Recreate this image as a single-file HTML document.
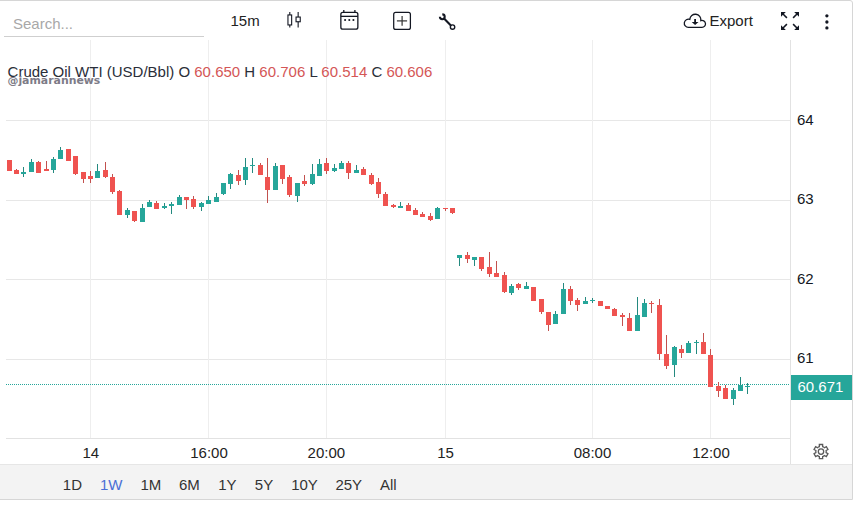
<!DOCTYPE html>
<html><head><meta charset="utf-8">
<style>
html,body{margin:0;padding:0;background:#fff;}
body{width:858px;height:505px;overflow:hidden;position:relative;font-family:"Liberation Sans",Arial,sans-serif;color:#131722;}
.a{position:absolute;white-space:nowrap;line-height:1;}
.frame{position:absolute;left:-10px;top:0;width:863px;height:500px;border:1px solid #d6d6d6;border-radius:0 3px 0 0;box-sizing:border-box;}
.search{left:13px;top:16px;font-size:15px;color:#a8a8a8;}
.tb{font-size:15px;color:#222;}
.legend{left:7.6px;top:64px;font-size:15px;color:#2a2e39;}
.legend .v{color:#d45656;}
.wm{left:7.5px;top:76px;font-family:"DejaVu Sans",Verdana,sans-serif;font-weight:bold;font-size:10.9px;color:#7d7b87;}
.yl{font-size:15px;color:#131722;left:797px;}
.xl{font-size:15px;color:#222;top:445px;transform:translateX(-50%);}
.bar{position:absolute;left:0;top:464px;width:852px;height:35px;background:#f3f3f3;border-top:1px solid #e6e6e6;box-sizing:border-box;}
.tf{font-size:15px;color:#333;top:477px;}
.tf.on{color:#4a6fd6;}
.pl{position:absolute;left:791px;top:375px;width:61px;height:25px;background:#26a69a;}
.plt{left:797.5px;top:379px;font-size:15px;color:#fff;}
</style></head><body>
<div class="frame"></div>
<div class="a search">Search...</div>
<svg width="858" height="505" style="position:absolute;left:0;top:0">
<g shape-rendering="crispEdges">
<rect x="4" y="36" width="200" height="1" fill="#cfcfcf"/>
<!-- grid -->
<g fill="#e7e7e7">
<rect x="6" y="120" width="784" height="1"/>
<rect x="6" y="200" width="784" height="1"/>
<rect x="6" y="279" width="784" height="1"/>
<rect x="6" y="359" width="784" height="1"/>
</g>
<g fill="#eeeeee">
<rect x="90" y="40" width="1" height="398"/>
<rect x="208" y="40" width="1" height="398"/>
<rect x="326" y="40" width="1" height="398"/>
<rect x="445" y="40" width="1" height="398"/>
<rect x="592" y="40" width="1" height="398"/>
<rect x="710" y="40" width="1" height="398"/>
</g>
<rect x="790" y="40" width="1" height="424" fill="#e2e2e2"/>
<rect x="6" y="438" width="784" height="1" fill="#e2e2e2"/>
<line x1="6" y1="384.5" x2="790" y2="384.5" stroke="#26a69a" stroke-width="1" stroke-dasharray="1 1"/>
<rect x="7" y="160" width="5" height="11" fill="#ef5350"/>
<rect x="16" y="169" width="1" height="5" fill="#c2514e"/>
<rect x="14" y="170" width="5" height="4" fill="#ef5350"/>
<rect x="23" y="167" width="1" height="10" fill="#24897f"/>
<rect x="21" y="172" width="5" height="2" fill="#26a69a"/>
<rect x="31" y="159" width="1" height="13" fill="#24897f"/>
<rect x="29" y="162" width="5" height="10" fill="#26a69a"/>
<rect x="38" y="161" width="1" height="12" fill="#c2514e"/>
<rect x="36" y="162" width="5" height="11" fill="#ef5350"/>
<rect x="46" y="161" width="1" height="10" fill="#c2514e"/>
<rect x="44" y="169" width="5" height="2" fill="#ef5350"/>
<rect x="53" y="157" width="1" height="16" fill="#24897f"/>
<rect x="51" y="159" width="5" height="11" fill="#26a69a"/>
<rect x="60" y="147" width="1" height="12" fill="#24897f"/>
<rect x="58" y="150" width="5" height="9" fill="#26a69a"/>
<rect x="66" y="149" width="5" height="12" fill="#ef5350"/>
<rect x="75" y="156" width="1" height="19" fill="#c2514e"/>
<rect x="73" y="156" width="5" height="18" fill="#ef5350"/>
<rect x="83" y="172" width="1" height="11" fill="#c2514e"/>
<rect x="81" y="172" width="5" height="7" fill="#ef5350"/>
<rect x="90" y="171" width="1" height="12" fill="#c2514e"/>
<rect x="88" y="176" width="5" height="3" fill="#ef5350"/>
<rect x="97" y="164" width="1" height="14" fill="#24897f"/>
<rect x="95" y="171" width="5" height="7" fill="#26a69a"/>
<rect x="105" y="162" width="1" height="16" fill="#c2514e"/>
<rect x="103" y="170" width="5" height="7" fill="#ef5350"/>
<rect x="112" y="174" width="1" height="20" fill="#c2514e"/>
<rect x="110" y="177" width="5" height="15" fill="#ef5350"/>
<rect x="119" y="190" width="1" height="25" fill="#c2514e"/>
<rect x="117" y="191" width="5" height="24" fill="#ef5350"/>
<rect x="127" y="208" width="1" height="10" fill="#24897f"/>
<rect x="125" y="210" width="5" height="5" fill="#26a69a"/>
<rect x="134" y="211" width="1" height="11" fill="#c2514e"/>
<rect x="132" y="211" width="5" height="10" fill="#ef5350"/>
<rect x="142" y="204" width="1" height="18" fill="#24897f"/>
<rect x="140" y="208" width="5" height="14" fill="#26a69a"/>
<rect x="149" y="200" width="1" height="7" fill="#24897f"/>
<rect x="147" y="202" width="5" height="5" fill="#26a69a"/>
<rect x="156" y="201" width="1" height="8" fill="#c2514e"/>
<rect x="154" y="203" width="5" height="6" fill="#ef5350"/>
<rect x="164" y="203" width="1" height="6" fill="#24897f"/>
<rect x="162" y="206" width="5" height="2" fill="#26a69a"/>
<rect x="171" y="202" width="1" height="12" fill="#24897f"/>
<rect x="169" y="204" width="5" height="2" fill="#26a69a"/>
<rect x="179" y="195" width="1" height="10" fill="#24897f"/>
<rect x="177" y="197" width="5" height="8" fill="#26a69a"/>
<rect x="186" y="197" width="1" height="12" fill="#c2514e"/>
<rect x="184" y="197" width="5" height="3" fill="#ef5350"/>
<rect x="193" y="196" width="1" height="13" fill="#c2514e"/>
<rect x="191" y="199" width="5" height="8" fill="#ef5350"/>
<rect x="201" y="202" width="1" height="9" fill="#24897f"/>
<rect x="199" y="203" width="5" height="4" fill="#26a69a"/>
<rect x="208" y="196" width="1" height="8" fill="#24897f"/>
<rect x="206" y="200" width="5" height="4" fill="#26a69a"/>
<rect x="216" y="193" width="1" height="9" fill="#24897f"/>
<rect x="214" y="197" width="5" height="5" fill="#26a69a"/>
<rect x="223" y="183" width="1" height="12" fill="#24897f"/>
<rect x="221" y="183" width="5" height="11" fill="#26a69a"/>
<rect x="230" y="173" width="1" height="16" fill="#24897f"/>
<rect x="228" y="174" width="5" height="10" fill="#26a69a"/>
<rect x="238" y="170" width="1" height="15" fill="#c2514e"/>
<rect x="236" y="175" width="5" height="6" fill="#ef5350"/>
<rect x="245" y="158" width="1" height="27" fill="#24897f"/>
<rect x="243" y="167" width="5" height="13" fill="#26a69a"/>
<rect x="252" y="158" width="1" height="15" fill="#24897f"/>
<rect x="250" y="165" width="5" height="1" fill="#26a69a"/>
<rect x="260" y="163" width="1" height="12" fill="#c2514e"/>
<rect x="258" y="165" width="5" height="10" fill="#ef5350"/>
<rect x="267" y="158" width="1" height="45" fill="#c2514e"/>
<rect x="265" y="177" width="5" height="13" fill="#ef5350"/>
<rect x="275" y="163" width="1" height="27" fill="#24897f"/>
<rect x="273" y="166" width="5" height="24" fill="#26a69a"/>
<rect x="282" y="165" width="1" height="19" fill="#c2514e"/>
<rect x="280" y="165" width="5" height="14" fill="#ef5350"/>
<rect x="289" y="175" width="1" height="22" fill="#c2514e"/>
<rect x="287" y="177" width="5" height="18" fill="#ef5350"/>
<rect x="297" y="183" width="1" height="19" fill="#24897f"/>
<rect x="295" y="183" width="5" height="13" fill="#26a69a"/>
<rect x="304" y="175" width="1" height="11" fill="#c2514e"/>
<rect x="302" y="181" width="5" height="3" fill="#ef5350"/>
<rect x="312" y="164" width="1" height="21" fill="#24897f"/>
<rect x="310" y="174" width="5" height="10" fill="#26a69a"/>
<rect x="319" y="159" width="1" height="17" fill="#24897f"/>
<rect x="317" y="164" width="5" height="12" fill="#26a69a"/>
<rect x="326" y="158" width="1" height="16" fill="#c2514e"/>
<rect x="324" y="163" width="5" height="8" fill="#ef5350"/>
<rect x="334" y="164" width="1" height="8" fill="#24897f"/>
<rect x="332" y="168" width="5" height="3" fill="#26a69a"/>
<rect x="341" y="161" width="1" height="8" fill="#24897f"/>
<rect x="339" y="163" width="5" height="6" fill="#26a69a"/>
<rect x="348" y="161" width="1" height="18" fill="#c2514e"/>
<rect x="346" y="163" width="5" height="10" fill="#ef5350"/>
<rect x="356" y="165" width="1" height="8" fill="#24897f"/>
<rect x="354" y="170" width="5" height="3" fill="#26a69a"/>
<rect x="363" y="167" width="1" height="8" fill="#c2514e"/>
<rect x="361" y="169" width="5" height="6" fill="#ef5350"/>
<rect x="371" y="173" width="1" height="12" fill="#c2514e"/>
<rect x="369" y="175" width="5" height="9" fill="#ef5350"/>
<rect x="378" y="178" width="1" height="20" fill="#c2514e"/>
<rect x="376" y="182" width="5" height="12" fill="#ef5350"/>
<rect x="385" y="192" width="1" height="14" fill="#c2514e"/>
<rect x="383" y="194" width="5" height="12" fill="#ef5350"/>
<rect x="393" y="204" width="1" height="4" fill="#c2514e"/>
<rect x="391" y="205" width="5" height="2" fill="#ef5350"/>
<rect x="400" y="202" width="1" height="6" fill="#24897f"/>
<rect x="398" y="206" width="5" height="2" fill="#26a69a"/>
<rect x="408" y="203" width="1" height="8" fill="#c2514e"/>
<rect x="406" y="205" width="5" height="6" fill="#ef5350"/>
<rect x="415" y="208" width="1" height="7" fill="#c2514e"/>
<rect x="413" y="210" width="5" height="5" fill="#ef5350"/>
<rect x="422" y="212" width="1" height="5" fill="#c2514e"/>
<rect x="420" y="214" width="5" height="3" fill="#ef5350"/>
<rect x="430" y="213" width="1" height="8" fill="#c2514e"/>
<rect x="428" y="216" width="5" height="4" fill="#ef5350"/>
<rect x="437" y="207" width="1" height="12" fill="#24897f"/>
<rect x="435" y="208" width="5" height="11" fill="#26a69a"/>
<rect x="445" y="208" width="1" height="3" fill="#c2514e"/>
<rect x="443" y="208" width="5" height="1" fill="#ef5350"/>
<rect x="452" y="208" width="1" height="6" fill="#c2514e"/>
<rect x="450" y="208" width="5" height="5" fill="#ef5350"/>
<rect x="459" y="255" width="1" height="11" fill="#24897f"/>
<rect x="457" y="255" width="5" height="3" fill="#26a69a"/>
<rect x="467" y="252" width="1" height="11" fill="#c2514e"/>
<rect x="465" y="255" width="5" height="4" fill="#ef5350"/>
<rect x="474" y="257" width="1" height="9" fill="#24897f"/>
<rect x="472" y="257" width="5" height="3" fill="#26a69a"/>
<rect x="481" y="257" width="1" height="14" fill="#c2514e"/>
<rect x="479" y="257" width="5" height="12" fill="#ef5350"/>
<rect x="489" y="252" width="1" height="25" fill="#c2514e"/>
<rect x="487" y="267" width="5" height="7" fill="#ef5350"/>
<rect x="496" y="261" width="1" height="16" fill="#c2514e"/>
<rect x="494" y="273" width="5" height="4" fill="#ef5350"/>
<rect x="504" y="272" width="1" height="21" fill="#c2514e"/>
<rect x="502" y="275" width="5" height="17" fill="#ef5350"/>
<rect x="511" y="284" width="1" height="11" fill="#24897f"/>
<rect x="509" y="286" width="5" height="7" fill="#26a69a"/>
<rect x="518" y="283" width="1" height="7" fill="#c2514e"/>
<rect x="516" y="284" width="5" height="4" fill="#ef5350"/>
<rect x="526" y="282" width="1" height="7" fill="#24897f"/>
<rect x="524" y="286" width="5" height="3" fill="#26a69a"/>
<rect x="531" y="287" width="5" height="14" fill="#ef5350"/>
<rect x="541" y="299" width="1" height="15" fill="#c2514e"/>
<rect x="539" y="299" width="5" height="13" fill="#ef5350"/>
<rect x="548" y="312" width="1" height="19" fill="#c2514e"/>
<rect x="546" y="312" width="5" height="13" fill="#ef5350"/>
<rect x="555" y="311" width="1" height="13" fill="#24897f"/>
<rect x="553" y="314" width="5" height="10" fill="#26a69a"/>
<rect x="563" y="283" width="1" height="31" fill="#24897f"/>
<rect x="561" y="289" width="5" height="25" fill="#26a69a"/>
<rect x="570" y="286" width="1" height="19" fill="#c2514e"/>
<rect x="568" y="289" width="5" height="12" fill="#ef5350"/>
<rect x="577" y="298" width="1" height="13" fill="#c2514e"/>
<rect x="575" y="300" width="5" height="5" fill="#ef5350"/>
<rect x="585" y="297" width="1" height="7" fill="#24897f"/>
<rect x="583" y="301" width="5" height="3" fill="#26a69a"/>
<rect x="592" y="298" width="1" height="5" fill="#24897f"/>
<rect x="590" y="300" width="5" height="1" fill="#26a69a"/>
<rect x="598" y="301" width="5" height="5" fill="#ef5350"/>
<rect x="605" y="306" width="5" height="3" fill="#ef5350"/>
<rect x="614" y="308" width="1" height="8" fill="#c2514e"/>
<rect x="612" y="309" width="5" height="7" fill="#ef5350"/>
<rect x="622" y="313" width="1" height="13" fill="#c2514e"/>
<rect x="620" y="315" width="5" height="2" fill="#ef5350"/>
<rect x="629" y="313" width="1" height="18" fill="#c2514e"/>
<rect x="627" y="318" width="5" height="13" fill="#ef5350"/>
<rect x="637" y="297" width="1" height="34" fill="#24897f"/>
<rect x="635" y="315" width="5" height="16" fill="#26a69a"/>
<rect x="644" y="299" width="1" height="18" fill="#24897f"/>
<rect x="642" y="303" width="5" height="14" fill="#26a69a"/>
<rect x="651" y="301" width="1" height="12" fill="#c2514e"/>
<rect x="649" y="303" width="5" height="1" fill="#ef5350"/>
<rect x="659" y="299" width="1" height="61" fill="#c2514e"/>
<rect x="657" y="305" width="5" height="49" fill="#ef5350"/>
<rect x="666" y="335" width="1" height="34" fill="#c2514e"/>
<rect x="664" y="354" width="5" height="12" fill="#ef5350"/>
<rect x="674" y="346" width="1" height="31" fill="#24897f"/>
<rect x="672" y="347" width="5" height="18" fill="#26a69a"/>
<rect x="681" y="345" width="1" height="13" fill="#c2514e"/>
<rect x="679" y="349" width="5" height="4" fill="#ef5350"/>
<rect x="688" y="341" width="1" height="12" fill="#24897f"/>
<rect x="686" y="343" width="5" height="10" fill="#26a69a"/>
<rect x="696" y="340" width="1" height="14" fill="#24897f"/>
<rect x="694" y="342" width="5" height="1" fill="#26a69a"/>
<rect x="703" y="333" width="1" height="21" fill="#c2514e"/>
<rect x="701" y="342" width="5" height="12" fill="#ef5350"/>
<rect x="710" y="349" width="1" height="38" fill="#c2514e"/>
<rect x="708" y="355" width="5" height="32" fill="#ef5350"/>
<rect x="718" y="382" width="1" height="15" fill="#c2514e"/>
<rect x="716" y="386" width="5" height="5" fill="#ef5350"/>
<rect x="725" y="385" width="1" height="14" fill="#c2514e"/>
<rect x="723" y="388" width="5" height="11" fill="#ef5350"/>
<rect x="733" y="388" width="1" height="17" fill="#24897f"/>
<rect x="731" y="390" width="5" height="9" fill="#26a69a"/>
<rect x="740" y="377" width="1" height="14" fill="#24897f"/>
<rect x="738" y="385" width="5" height="6" fill="#26a69a"/>
<rect x="747" y="383" width="1" height="11" fill="#24897f"/>
<rect x="745" y="386" width="5" height="1" fill="#26a69a"/>
</g>
<!-- toolbar icons -->
<g fill="none" stroke="#131722" stroke-width="1.1">
<rect x="287.95" y="14.95" width="3.7" height="10"/>
<line x1="289.8" y1="12.1" x2="289.8" y2="14.95"/><line x1="289.8" y1="24.95" x2="289.8" y2="27.6"/>
<rect x="296.05" y="17.05" width="4.2" height="4.7"/>
<line x1="298.15" y1="12.1" x2="298.15" y2="17.05"/><line x1="298.15" y1="21.75" x2="298.15" y2="27.6"/>
</g>
<g fill="none" stroke="#131722" stroke-width="1.3">
<rect x="340.85" y="12.45" width="17" height="16.7" rx="2"/>
<line x1="340.85" y1="16.35" x2="357.85" y2="16.35"/>
<line x1="343.8" y1="9.9" x2="343.8" y2="12.45"/><line x1="354.9" y1="9.9" x2="354.9" y2="12.45"/>
</g>
<g fill="none" stroke="#131722" stroke-width="1.25">
<rect x="393.7" y="12.4" width="16.7" height="17" rx="2"/>
</g>
<g fill="none" stroke="#333" stroke-width="1.2">
<line x1="396.9" y1="20.9" x2="407.1" y2="20.9"/><line x1="402.1" y1="16" x2="402.1" y2="25.8"/>
</g>
<g fill="#131722">
<circle cx="345.1" cy="20" r="1.05"/><circle cx="349.3" cy="20" r="1.05"/><circle cx="353.4" cy="20" r="1.05"/>
<circle cx="826.9" cy="15.8" r="1.65"/><circle cx="826.9" cy="22" r="1.65"/><circle cx="826.9" cy="27.9" r="1.65"/>
</g>
<!-- wrench -->
<g fill="none" stroke="#131722">
<circle cx="452.55" cy="27.05" r="2.2" stroke-width="1.4"/>
<line x1="450.9" y1="25.4" x2="443.8" y2="18.3" stroke-width="2.1"/>
<path d="M442.3 14.4 A2.4 2.4 0 1 1 439.9 16.8" stroke-width="2.1"/>
</g>
<!-- cloud -->
<path d="M688.4 27.4 A4.1 4.1 0 1 1 689.8 19.45 A5.55 5.55 0 1 1 700.83 20.60 A3.5 3.5 0 1 1 702.0 27.4 Z" fill="none" stroke="#131722" stroke-width="1.3"/>
<path d="M694.2 19.1 H696 V22 H698.5 L695.1 25.1 L691.7 22 H694.2 Z" fill="#131722"/>
<!-- fullscreen -->
<g fill="#131722">
<path d="M781 12 H785.8 L781 16.8 Z"/><path d="M799 12 H794.2 L799 16.8 Z"/>
<path d="M781 30 H785.8 L781 25.2 Z"/><path d="M799 30 H794.2 L799 25.2 Z"/>
</g>
<g stroke="#131722" stroke-width="1.5">
<line x1="782.5" y1="13.5" x2="786.9" y2="17.9"/><line x1="797.5" y1="13.5" x2="793.1" y2="17.9"/>
<line x1="782.5" y1="28.5" x2="786.9" y2="24.1"/><line x1="797.5" y1="28.5" x2="793.1" y2="24.1"/>
</g>
<!-- gear -->
<g transform="translate(821 451.6)" fill="none" stroke="#5a5a5a" stroke-width="1.3">
<path d="M-1.65 -4.93 L-1.65 -7.11 L1.65 -7.11 L1.65 -4.93 A5.20 5.20 0 0 1 3.45 -3.89 L5.33 -4.98 L6.98 -2.13 L5.10 -1.04 A5.20 5.20 0 0 1 5.10 1.04 L6.98 2.13 L5.33 4.98 L3.45 3.89 A5.20 5.20 0 0 1 1.65 4.93 L1.65 7.11 L-1.65 7.11 L-1.65 4.93 A5.20 5.20 0 0 1 -3.45 3.89 L-5.33 4.98 L-6.98 2.13 L-5.10 1.04 A5.20 5.20 0 0 1 -5.10 -1.04 L-6.98 -2.13 L-5.33 -4.98 L-3.45 -3.89 A5.20 5.20 0 0 1 -1.65 -4.93 Z"/>
<circle cx="0" cy="0" r="2.7"/>
</g>
</svg>
<div class="a tb" style="left:230.5px;top:13px;">15m</div>
<div class="a tb" style="left:709.5px;top:13px;">Export</div>
<div class="a legend">Crude Oil WTI (USD/Bbl) O <span class="v">60.650</span> H <span class="v">60.706</span> L <span class="v">60.514</span> C <span class="v">60.606</span></div>
<div class="a wm">@jamarannews</div>
<div class="a yl" style="top:112px;">64</div>
<div class="a yl" style="top:191px;">63</div>
<div class="a yl" style="top:271px;">62</div>
<div class="a yl" style="top:350px;">61</div>
<div class="pl"></div>
<div class="a plt">60.671</div>
<div class="a xl" style="left:90.8px;">14</div>
<div class="a xl" style="left:209px;">16:00</div>
<div class="a xl" style="left:326.4px;">20:00</div>
<div class="a xl" style="left:445.5px;">15</div>
<div class="a xl" style="left:592.5px;">08:00</div>
<div class="a xl" style="left:711px;">12:00</div>
<div class="bar"></div>
<div class="a tf" style="left:62.8px;">1D</div>
<div class="a tf on" style="left:100px;">1W</div>
<div class="a tf" style="left:140.5px;">1M</div>
<div class="a tf" style="left:179px;">6M</div>
<div class="a tf" style="left:218.2px;">1Y</div>
<div class="a tf" style="left:254.8px;">5Y</div>
<div class="a tf" style="left:291.2px;">10Y</div>
<div class="a tf" style="left:335.4px;">25Y</div>
<div class="a tf" style="left:380px;">All</div>
</body></html>
